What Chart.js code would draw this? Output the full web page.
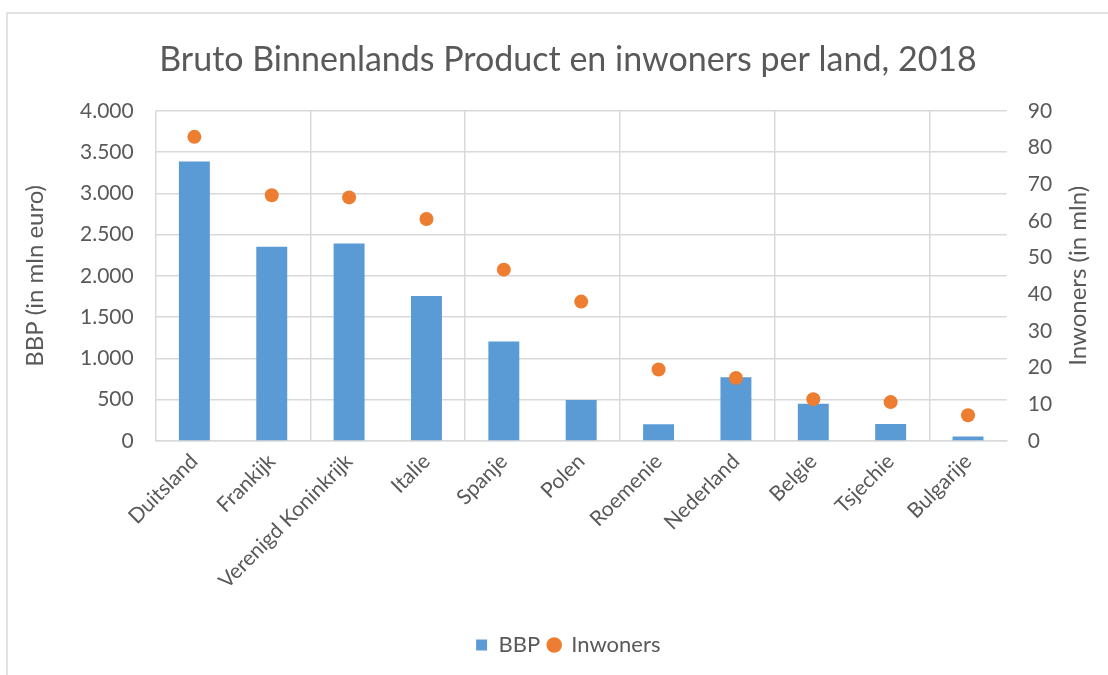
<!DOCTYPE html>
<html>
<head>
<meta charset="utf-8">
<script src="https://cdn.jsdelivr.net/npm/chart.js@4.4.1/dist/chart.umd.min.js"></script>
<style>
  html, body { margin: 0; padding: 0; background: #ffffff; }
  #wrap { width: 1108px; height: 675px; position: relative; }
</style>
</head>
<body>
<div id="wrap"><canvas id="c" width="1108" height="675"></canvas></div>
<script>
const categories = ['Duitsland', 'Frankijk', 'Verenigd Koninkrijk', 'Italie', 'Spanje', 'Polen', 'Roemenie', 'Nederland', 'Belgie', 'Tsjechie', 'Bulgarije'];
const bbp = [3386, 2353, 2392, 1757, 1206, 496, 203, 773, 450, 207, 55];
const inwoners = [82.9, 67.0, 66.4, 60.5, 46.7, 38.0, 19.5, 17.2, 11.4, 10.6, 7.0];
const chartTitle = 'Bruto Binnenlands Product en inwoners per land, 2018';
const leftAxisTitle = 'BBP (in mln euro)';
const rightAxisTitle = 'Inwoners (in mln)';

const FONT = 'Lato, "Noto Sans", sans-serif';
const TXT = '#595959';
const GRID = '#d9d9d9';

function fmt(v) { return String(v).replace(/\B(?=(\d{3})+(?!\d))/g, '.'); }

const framePlugin = {
  id: 'frame',
  beforeDraw(chart) {
    const ctx = chart.ctx;
    ctx.save();
    ctx.fillStyle = '#ffffff';
    ctx.fillRect(0, 0, chart.width, chart.height);
    ctx.strokeStyle = GRID;
    ctx.lineWidth = 1.5;
    ctx.strokeRect(7, 13, chart.width + 50, chart.height + 50);
    ctx.restore();
  },
  afterDraw(chart) {
    const ctx = chart.ctx;
    const a = chart.chartArea;
    ctx.save();
    ctx.fillStyle = TXT;
    ctx.font = '24px ' + FONT;
    ctx.textAlign = 'center';
    ctx.textBaseline = 'middle';
    ctx.translate(1078, (a.top + a.bottom) / 2);
    ctx.rotate(-Math.PI / 2);
    ctx.fillText(rightAxisTitle, 0, 0);
    ctx.restore();
  }
};

new Chart(document.getElementById('c'), {
  type: 'bar',
  data: {
    labels: categories,
    datasets: [
      {
        type: 'bar',
        label: 'BBP',
        data: bbp,
        backgroundColor: '#5B9BD5',
        borderWidth: 0,
        barPercentage: 0.4,
        categoryPercentage: 1.0,
        yAxisID: 'y',
        order: 1
      },
      {
        type: 'line',
        label: 'Inwoners',
        data: inwoners,
        showLine: false,
        backgroundColor: '#ED7D31',
        borderColor: '#ED7D31',
        pointRadius: 7,
        pointHoverRadius: 7,
        pointBorderWidth: 0,
        pointStyle: 'circle',
        yAxisID: 'y1',
        order: 0
      }
    ]
  },
  options: {
    responsive: false,
    animation: false,
    devicePixelRatio: 1,
    layout: { padding: { left: 28, right: 0, top: 0, bottom: 9 } },
    plugins: {
      title: {
        display: true,
        text: chartTitle,
        color: TXT,
        font: { family: FONT, size: 34, weight: 'normal' },
        padding: { top: 40, bottom: 30 }
      },
      legend: {
        position: 'bottom',
        labels: {
          color: TXT,
          font: { family: FONT, size: 22 },
          usePointStyle: true,
          boxHeight: 11,
          boxWidth: 12,
          padding: 8,
          sort: (a, b) => a.datasetIndex - b.datasetIndex,
          generateLabels(chart) {
            const items = Chart.defaults.plugins.legend.labels.generateLabels(chart);
            items.forEach(it => {
              it.pointStyle = it.datasetIndex === 0 ? 'rect' : 'circle';
              it.lineWidth = 0;
              it.strokeStyle = 'transparent';
            });
            return items;
          }
        }
      },
      tooltip: { enabled: false }
    },
    scales: {
      x: {
        offset: true,
        grid: {
          offset: true,
          drawTicks: false,
          lineWidth: 1.5,
          color: (ctx) => (ctx.index % 2 === 0 ? GRID : 'rgba(0,0,0,0)')
        },
        border: { display: true, color: GRID, width: 1.5 },
        ticks: {
          color: TXT,
          font: { family: FONT, size: 21 },
          minRotation: 45,
          maxRotation: 45,
          padding: 8,
          autoSkip: false
        },
        afterFit(scale) { scale.height = 185; }
      },
      y: {
        position: 'left',
        min: 0,
        max: 4000,
        ticks: {
          stepSize: 500,
          color: TXT,
          font: { family: FONT, size: 21 },
          padding: 22,
          callback: (v) => fmt(v)
        },
        grid: { color: GRID, lineWidth: 1.5, drawTicks: false },
        border: { display: false },
        title: {
          display: true,
          text: leftAxisTitle,
          color: TXT,
          font: { family: FONT, size: 24 },
          padding: { top: -7, bottom: 0 }
        },
        afterFit(scale) { scale.width = 127.7; }
      },
      y1: {
        position: 'right',
        min: 0,
        max: 90,
        ticks: {
          stepSize: 10,
          color: TXT,
          font: { family: FONT, size: 21 },
          padding: 21
        },
        grid: { display: false, drawTicks: false },
        border: { display: false },
        afterFit(scale) { scale.width = 101.3; }
      }
    }
  },
  plugins: [framePlugin]
});
</script>
</body>
</html>
